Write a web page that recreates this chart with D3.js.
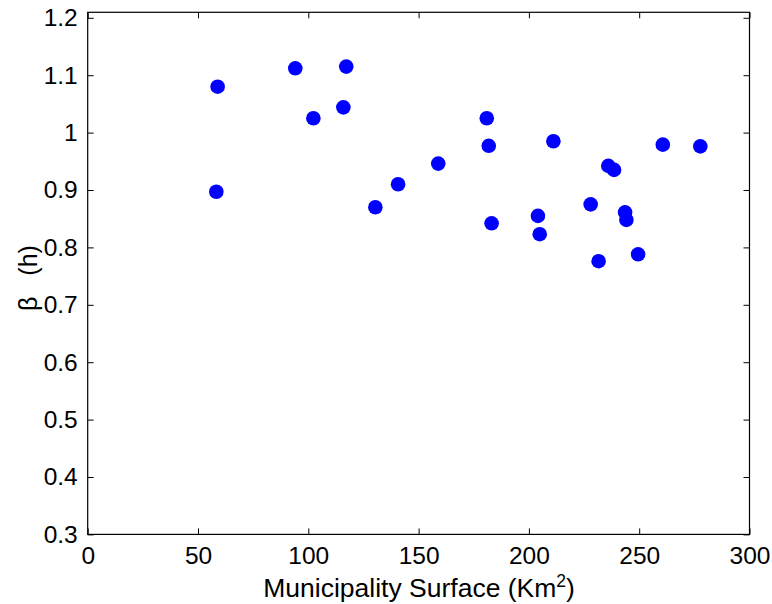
<!DOCTYPE html>
<html>
<head>
<meta charset="utf-8">
<script src="https://cdn.jsdelivr.net/npm/d3@7"></script>
<style>
  html, body { margin: 0; padding: 0; background: #fff; }
  svg { display: block; }
</style>
</head>
<body>
<svg id="chart" width="772" height="604"></svg>
<script>
const surface = [58.9, 58.3, 94.1, 117.2, 115.9, 102.3, 130.4, 140.7, 180.9, 181.8, 158.9, 211.1,
                 260.7, 277.7, 236.0, 238.6, 228.0, 243.6, 244.2, 183.1, 204.1, 204.9, 231.6, 249.5];
const beta = [1.080, 0.897, 1.112, 1.115, 1.044, 1.025, 0.870, 0.910, 1.025, 0.977, 0.946, 0.985,
              0.979, 0.976, 0.942, 0.935, 0.875, 0.861, 0.848, 0.842, 0.855, 0.823, 0.776, 0.788];
const xTicks = [0, 50, 100, 150, 200, 250, 300];
const yTicks = [0.3, 0.4, 0.5, 0.6, 0.7, 0.8, 0.9, 1.0, 1.1, 1.2];

const L = 87.7, R = 749.5, T = 12.3, B = 534.4;
const x = d3.scaleLinear().domain([0, 300]).range([L, R]);
const y = d3.scaleLinear().domain([0.3, 1.2096]).range([B, T]);

const svg = d3.select("#chart");
const font = "'Liberation Sans', Arial, Helvetica, sans-serif";
const tickLen = 6;

// axes
const fmt = d => (Math.round(d * 10) / 10).toString();
const gx = svg.append("g").attr("transform", `translate(0,${B})`)
  .call(d3.axisBottom(x).tickValues(xTicks).tickSize(-tickLen).tickPadding(tickLen + 6).tickFormat(d3.format("d")));
const gxTop = svg.append("g").attr("transform", `translate(0,${T})`)
  .call(d3.axisTop(x).tickValues(xTicks).tickSize(-tickLen).tickFormat(""));
const gy = svg.append("g").attr("transform", `translate(${L},0)`)
  .call(d3.axisLeft(y).tickValues(yTicks).tickSize(-tickLen).tickPadding(tickLen + 4).tickFormat(fmt));
const gyR = svg.append("g").attr("transform", `translate(${R},0)`)
  .call(d3.axisRight(y).tickValues(yTicks).tickSize(-tickLen).tickFormat(""));

[gx, gxTop, gy, gyR].forEach(g => {
  g.select(".domain").remove();
  g.selectAll(".tick line").attr("stroke", "#000").attr("stroke-width", 1);
  g.selectAll("text").attr("fill", "#000").style("font-family", font).style("font-size", "24.5px");
});
gx.selectAll("text").attr("dy", "0.71em");

// frame
svg.append("rect").attr("x", L).attr("y", T).attr("width", R - L).attr("height", B - T)
  .attr("fill", "none").attr("stroke", "#000").attr("stroke-width", 1.2);

// points
svg.append("g").selectAll("circle").data(surface.map((s, i) => [s, beta[i]])).join("circle")
  .attr("cx", d => x(d[0])).attr("cy", d => y(d[1])).attr("r", 7.3).attr("fill", "#0000ff");

// x label
const xl = svg.append("text").attr("x", (L + R) / 2 + 0.5).attr("y", 597).attr("text-anchor", "middle")
  .style("font-family", font).style("font-size", "26.5px").attr("fill", "#000");
xl.append("tspan").text("Municipality Surface (Km");
xl.append("tspan").attr("dy", -10).style("font-size", "17.5px").text("2");
xl.append("tspan").attr("dy", 10).text(")");

// y label
svg.append("text").attr("transform", `translate(37,278) rotate(-90)`).attr("text-anchor", "middle")
  .style("font-family", font).style("font-size", "25px").attr("fill", "#000")
  .attr("xml:space", "preserve").style("white-space", "pre").text("β   (h)");
</script>
</body>
</html>
